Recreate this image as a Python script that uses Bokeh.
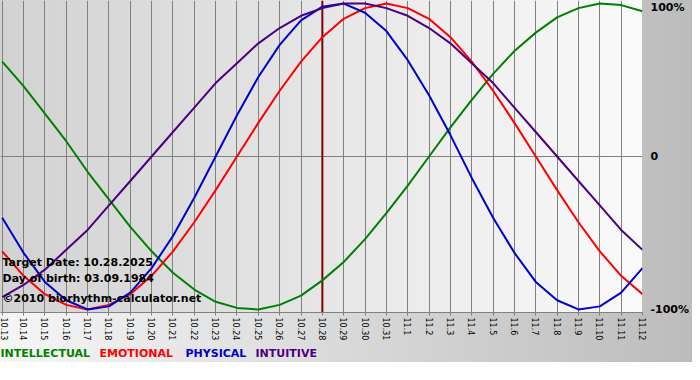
import math
from bokeh.plotting import figure
from bokeh.layouts import column
from bokeh.models import FixedTicker, Label, Span, Range1d, LinearAxis
from bokeh.core.properties import value
from bokeh.embed import file_html
from bokeh.resources import INLINE

# ---- data ----
dates = ["10.13", "10.14", "10.15", "10.16", "10.17", "10.18", "10.19", "10.20",
         "10.21", "10.22", "10.23", "10.24", "10.25", "10.26", "10.27", "10.28",
         "10.29", "10.30", "10.31", "11.1", "11.2", "11.3", "11.4", "11.5",
         "11.6", "11.7", "11.8", "11.9", "11.10", "11.11", "11.12"]

intellectual = [0.62, 0.46, 0.28, 0.10, -0.10, -0.28, -0.46, -0.62, -0.76, -0.87,
                -0.95, -0.99, -1.00, -0.97, -0.91, -0.81, -0.69, -0.54, -0.37, -0.19,
                0.00, 0.19, 0.37, 0.54, 0.69, 0.81, 0.91, 0.97, 1.00, 0.99, 0.95]
emotional = [-0.62, -0.78, -0.90, -0.97, -1.00, -0.97, -0.90, -0.78, -0.62, -0.43,
             -0.22, 0.00, 0.22, 0.43, 0.62, 0.78, 0.90, 0.97, 1.00, 0.97,
             0.90, 0.78, 0.62, 0.43, 0.22, 0.00, -0.22, -0.43, -0.62, -0.78, -0.90]
physical = [-0.40, -0.63, -0.82, -0.94, -1.00, -0.98, -0.89, -0.73, -0.52, -0.27,
            0.00, 0.27, 0.52, 0.73, 0.89, 0.98, 1.00, 0.94, 0.82, 0.63,
            0.40, 0.14, -0.14, -0.40, -0.63, -0.82, -0.94, -1.00, -0.98, -0.89, -0.73]
intuitive = [-0.92, -0.84, -0.74, -0.61, -0.48, -0.32, -0.16, 0.00, 0.16, 0.32,
             0.48, 0.61, 0.74, 0.84, 0.92, 0.97, 1.00, 1.00, 0.97, 0.92,
             0.84, 0.74, 0.61, 0.48, 0.32, 0.16, 0.00, -0.16, -0.32, -0.48, -0.61]

series_names = ["INTELLECTUAL", "EMOTIONAL", "PHYSICAL", "INTUITIVE"]
target_date = "10.28"
target_text = "Target Date: 10.28.2025"
birth_text = "Day of birth: 03.09.1984"
credit_text = "\u00a92010 biorhythm-calculator.net"
y_ticks = [1, 0, -1]
y_tick_labels = ["100%", "0", "-100%"]

# ---- styling ----
colors = {"INTELLECTUAL": "#008000", "EMOTIONAL": "#ff0000",
          "PHYSICAL": "#0000cc", "INTUITIVE": "#4b0082"}
values = {"INTELLECTUAL": intellectual, "EMOTIONAL": emotional,
          "PHYSICAL": physical, "INTUITIVE": intuitive}
FONT = "DejaVu Sans"
FRAME_W, FRAME_H = 642, 313
RIGHT, BOTTOM = 50, 30
LEG_H = 29
STRIP_H = 19
W = FRAME_W + RIGHT

xs = list(range(len(dates)))

p = figure(width=W, height=FRAME_H + BOTTOM,
           output_backend="svg", toolbar_location=None,
           x_range=Range1d(-0.08, len(dates) - 1), y_range=Range1d(-1.02, 1.02),
           y_axis_location=None,
           min_border_left=0, min_border_top=0,
           min_border_right=RIGHT, min_border_bottom=BOTTOM)
p.outline_line_color = None
p.background_fill_alpha = 0
p.border_fill_alpha = 0
p.styles = {
    "background": f"linear-gradient(to right, #d2d2d2, #fafafa) 0 0 / {FRAME_W}px {FRAME_H}px no-repeat"
}

# x axis
ticker = FixedTicker(ticks=xs)
p.xaxis.ticker = ticker
p.xaxis.major_label_overrides = {i: d for i, d in enumerate(dates)}
p.xaxis.major_label_orientation = -math.pi / 2
p.xaxis.major_label_text_font = FONT
p.xaxis.major_label_text_font_size = "8px"
p.xaxis.major_label_text_color = "black"
p.xaxis.major_label_standoff = 2
p.xaxis.axis_line_color = "#808080"
p.xaxis.major_tick_line_color = "#808080"
p.xaxis.major_tick_out = 3
p.xaxis.major_tick_in = 0
p.xaxis.minor_tick_line_color = None

p.xgrid.ticker = ticker
p.xgrid.grid_line_color = "#808080"
p.xgrid.grid_line_width = 1

# only the zero line horizontally
p.ygrid.ticker = FixedTicker(ticks=[0])
p.ygrid.grid_line_color = "#808080"
p.ygrid.grid_line_width = 1
p.ygrid.grid_line_alpha = 1

# right percentage axis
yax = LinearAxis(ticker=FixedTicker(ticks=y_ticks),
                 major_label_overrides={t: l for t, l in zip(y_ticks, y_tick_labels)},
                 axis_line_color=None, major_tick_line_color=None,
                 major_tick_out=0, major_tick_in=0,
                 minor_tick_line_color=None, minor_tick_out=0, minor_tick_in=0,
                 major_label_standoff=8,
                 major_label_text_font=FONT, major_label_text_font_size="11px",
                 major_label_text_font_style="bold", major_label_text_color="black")
p.add_layout(yax, "right")

# target date line
p.add_layout(Span(location=dates.index(target_date), dimension="height",
                  line_color="#800000", line_width=2, level="underlay"))

for name in series_names:
    p.line(xs, values[name], line_color=colors[name], line_width=2,
           line_join="round")

# info texts
for t, yy in [(target_text, 50), (birth_text, 34), (credit_text, 14)]:
    p.add_layout(Label(x=2, y=yy, x_units="screen", y_units="screen", text=t,
                       text_font=FONT, text_font_size="11px", text_font_style="bold",
                       text_color="black", text_baseline="middle", text_align="left"))

# legend strip (separate small figure so text is not clipped)
lf = figure(width=W, height=LEG_H, output_backend="svg", toolbar_location=None,
            x_range=Range1d(0, FRAME_W), y_range=Range1d(0, LEG_H),
            x_axis_location=None, y_axis_location=None,
            min_border_left=0, min_border_top=0, min_border_bottom=0,
            min_border_right=RIGHT)
lf.outline_line_color = None
lf.background_fill_alpha = 0
lf.border_fill_alpha = 0
lf.xgrid.visible = False
lf.ygrid.visible = False
legend_x = [0, 99, 185, 255]
lf.text(x=legend_x, y=[LEG_H - 10] * len(series_names), text=series_names,
        text_color=[colors[n] for n in series_names],
        text_font=value(FONT), text_font_size="11px", text_font_style="bold",
        text_baseline="middle", text_align="left")

layout = column(p, lf, spacing=0)
layout.styles = {
    "background": f"linear-gradient(to right, #f6f6f6, #bcbcbc) 0 0 / 100% {FRAME_H + BOTTOM + STRIP_H}px no-repeat"
}

open("out.html", "w").write(file_html(layout, INLINE))
